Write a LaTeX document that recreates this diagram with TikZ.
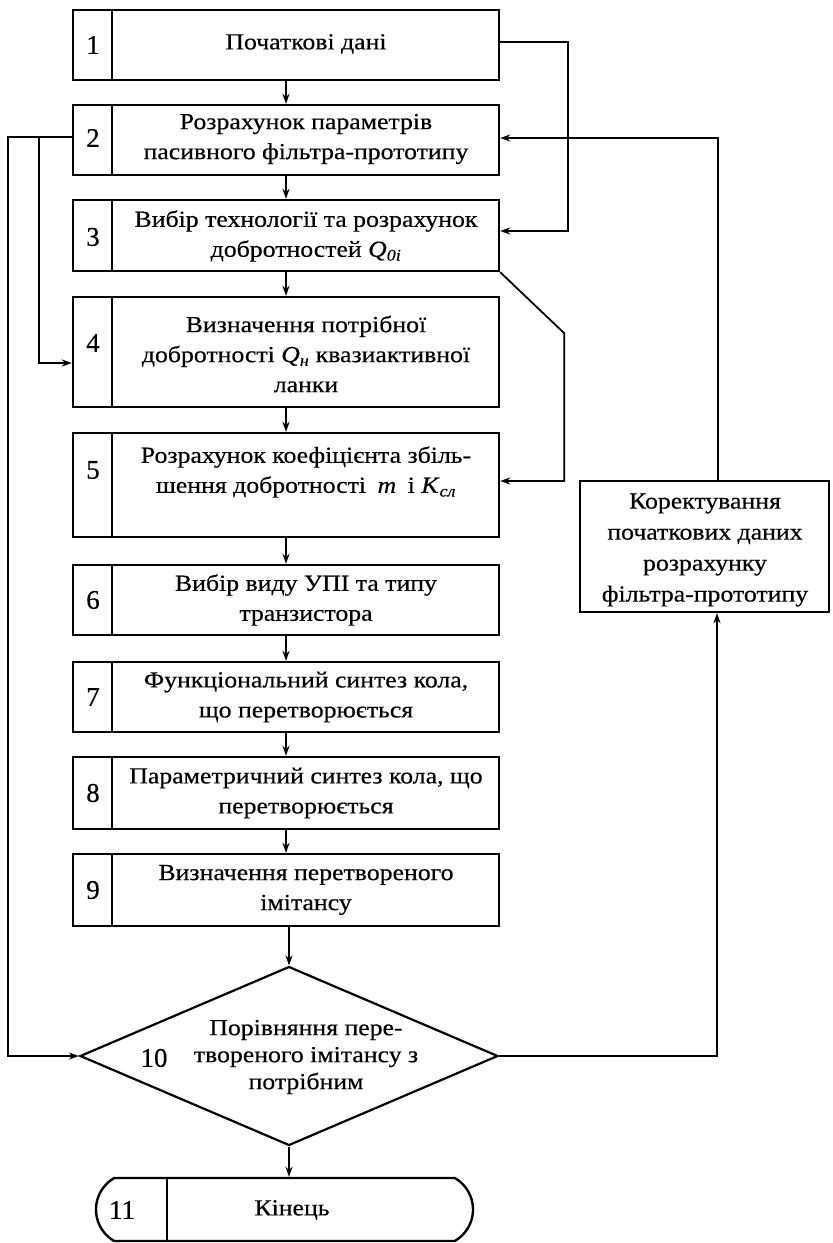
\documentclass[tikz,border=0pt]{standalone}
\usepackage{fontspec}
\setmainfont{Liberation Serif}[FakeBold=0.4]
\newfontfamily\boxfont{Liberation Serif}[FakeStretch=1.12, FakeBold=0.4]
\newfontfamily\numfont{Liberation Serif}[FakeBold=0.4]
\usetikzlibrary{arrows.meta,shapes.geometric,shapes.misc,calc}
\tikzset{
  box/.style={draw, line width=2.4pt, minimum width=426pt, inner sep=0pt},
  txt/.style={font=\boxfont\fontsize{23}{30}\selectfont, align=center, inner sep=0pt},
  num/.style={font=\numfont\fontsize{27}{30}\selectfont, inner sep=0pt},
  conn/.style={line width=1.8pt},
  arr/.style={conn, -{Stealth[length=10pt,width=7pt]}},
  divider/.style={line width=2.2pt}
}
\begin{document}
\begin{tikzpicture}[x=1pt,y=-1pt]
\useasboundingbox (0,0) rectangle (833,1243);
\path[fill=white] (0,0) rectangle (833,1243);

% boxes
\node[box, minimum height=70pt] (b1) at (286,45) {};
\node[box, minimum height=70pt] (b2) at (286,140) {};
\node[box, minimum height=71pt] (b3) at (286,235.5) {};
\node[box, minimum height=110pt] (b4) at (286,352) {};
\node[box, minimum height=104pt] (b5) at (286,485) {};
\node[box, minimum height=70pt] (b6) at (286,600) {};
\node[box, minimum height=70pt] (b7) at (286,697) {};
\node[box, minimum height=72pt] (b8) at (286,793) {};
\node[box, minimum height=72pt] (b9) at (286,890) {};

\foreach \b in {b1,b2,b3,b4,b5,b6,b7,b8,b9}{
  \draw[divider] ([xshift=40pt]\b.north west) -- ([xshift=40pt]\b.south west);
}

% numbers
\node[num] (n1) at (93,45) {1};
\node[num] (n2) at (93,138) {2};
\node[num] (n3) at (93,237) {3};
\node[num] (n4) at (93,343) {4};
\node[num] (n5) at (93,470) {5};
\node[num] (n6) at (93,600) {6};
\node[num] (n7) at (93,697) {7};
\node[num] (n8) at (93,793) {8};
\node[num] (n9) at (93,890) {9};

% texts
\node[txt] (t1) at (306,44) {Початкові дані};
\node[txt] (t2) at (306,139) {Розрахунок параметрів\\пасивного фільтра-прототипу};
\node[txt] (t3) at (306,236) {Вибір технології та розрахунок\\добротностей \textit{Q}\textsubscript{\textit{0i}}};
\node[txt] (t4) at (306,354) {Визначення потрібної\\добротності \textit{Q}\textsubscript{\textit{н}} квазиактивної\\ланки};
\node[txt] (t5) at (306,472) {Розрахунок коефіцієнта збіль-\\шення добротності\enspace\textit{m}\enspace і \textit{K}\textsubscript{\textit{сл}}};
\node[txt] (t6) at (306,600) {Вибір виду УПІ та типу\\транзистора};
\node[txt] (t7) at (306,697) {Функціональний синтез кола,\\що перетворюється};
\node[txt] (t8) at (306,793) {Параметричний синтез кола, що\\перетворюється};
\node[txt] (t9) at (306,890) {Визначення перетвореного\\імітансу};

% decision
\node[diamond, draw, line width=2.2pt, minimum width=418pt, minimum height=179pt, inner sep=0pt] (d10) at (289,1056) {};
\node[txt, font=\boxfont\fontsize{23}{27}\selectfont] (t10) at (306,1057) {Порівняння пере-\\твореного імітансу з\\потрібним};
\node[num] (n10) at (154,1058) {10};

% end
\node[rounded rectangle, rounded rectangle arc length=120, draw, line width=2.4pt, minimum width=377pt, minimum height=63pt, inner sep=0pt] (b11) at (284.5,1209.5) {};
\draw[divider] ([xshift=53pt]b11.north west) -- ([xshift=53pt]b11.south west);
\node[num] (n11) at (122,1210) {11};
\node[txt] (t11) at (292,1210) {Кінець};

% correction box
\node[draw, line width=2.4pt, minimum width=249pt, minimum height=131pt, inner sep=0pt] (kor) at (704.5,546.5) {};
\node[txt, font=\boxfont\fontsize{23}{31}\selectfont] (tk) at (705,550) {Коректування\\початкових даних\\розрахунку\\фільтра-прототипу};

% main flow
\draw[arr] (b1.south) -- (b2.north);
\draw[arr] (b2.south) -- (b3.north);
\draw[arr] (b3.south) -- (b4.north);
\draw[arr] (b4.south) -- (b5.north);
\draw[arr] (b5.south) -- (b6.north);
\draw[arr] (b6.south) -- (b7.north);
\draw[arr] (b7.south) -- (b8.north);
\draw[arr] (b8.south) -- (b9.north);
\draw[arr] (b9.south -| d10.north) -- (d10.north);
\draw[arr] (d10.south) -- (d10.south |- b11.north);

% side connectors
\draw[arr] ([yshift=3pt]b1.east) -- ++(68,0) |- ([yshift=4.5pt]b3.east);
\draw[arr] (b3.south east) -- ++(64,61) |- ([yshift=4pt]b5.east);
\draw[arr] ([xshift=13.5pt]kor.north) |- ([yshift=2pt]b2.east);
\draw[arr] (d10.east) -| ([xshift=12.5pt]kor.south);
\draw[arr] ([yshift=3pt]b2.west) -- ++(-64,0) |- (d10.west);
\draw[arr] ([yshift=3pt]b2.west) -- ++(-33,0) |- ([yshift=-11pt]b4.west);
\end{tikzpicture}
\end{document}
